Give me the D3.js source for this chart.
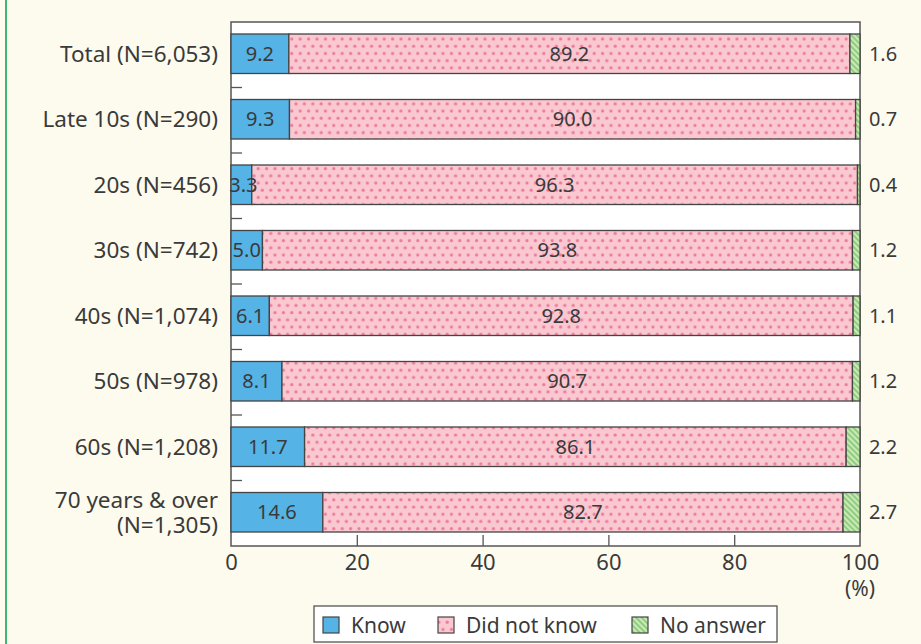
<!DOCTYPE html>
<html>
<head>
<meta charset="utf-8">
<script src="https://cdn.jsdelivr.net/npm/d3@7"></script>
<style>
  html, body { margin: 0; padding: 0; background: #fdfbee; }
  svg { display: block; }
  text { font-family: "Noto Sans", "Open Sans", sans-serif; fill: #3a3a3a; }
</style>
</head>
<body>
<script>
// Survey: awareness by age group (%)
const categories = [
  "Total (N=6,053)",
  "Late 10s (N=290)",
  "20s (N=456)",
  "30s (N=742)",
  "40s (N=1,074)",
  "50s (N=978)",
  "60s (N=1,208)",
  "70 years & over|(N=1,305)"
];
const know       = [9.2, 9.3, 3.3, 5.0, 6.1, 8.1, 11.7, 14.6];
const didNotKnow = [89.2, 90.0, 96.3, 93.8, 92.8, 90.7, 86.1, 82.7];
const noAnswer   = [1.6, 0.7, 0.4, 1.2, 1.1, 1.2, 2.2, 2.7];
const seriesNames = ["Know", "Did not know", "No answer"];
const xTicks = [0, 20, 40, 60, 80, 100];

const W = 921, H = 644;
const plot = { left: 231, right: 860, top: 22, bottom: 546 };

const svg = d3.select("body").append("svg").attr("width", W).attr("height", H);

// fill patterns
const defs = svg.append("defs");
const dots = defs.append("pattern").attr("id", "dots")
  .attr("patternUnits", "userSpaceOnUse").attr("width", 8.4).attr("height", 14.4);
dots.append("rect").attr("width", 8.4).attr("height", 14.4).attr("fill", "#f9c8d0");
[[2, 3], [6.2, 10.2]].forEach(([cx, cy]) =>
  dots.append("circle").attr("cx", cx).attr("cy", cy).attr("r", 1.6).attr("fill", "#ee7a9b"));

const stripes = defs.append("pattern").attr("id", "stripes")
  .attr("patternUnits", "userSpaceOnUse").attr("width", 4).attr("height", 4)
  .attr("patternTransform", "rotate(-45)");
stripes.append("rect").attr("width", 4).attr("height", 4).attr("fill", "#cbe9b8");
stripes.append("rect").attr("width", 2).attr("height", 4).attr("fill", "#8fcd7e");

const fills = ["#56b3e6", "url(#dots)", "url(#stripes)"];

// left green rule
svg.append("rect").attr("x", 5).attr("y", 0).attr("width", 2).attr("height", H).attr("fill", "#3db874");

const x = d3.scaleLinear().domain([0, 100]).range([plot.left, plot.right]);
const y = d3.scaleBand().domain(categories).range([plot.top, plot.bottom]).paddingInner(0).paddingOuter(0);
const barOff = 12, barH = 39.5;

// plot area
svg.append("rect").attr("x", plot.left).attr("y", plot.top)
  .attr("width", plot.right - plot.left).attr("height", plot.bottom - plot.top)
  .attr("fill", "#fff").attr("stroke", "#555").attr("stroke-width", 1.5);

// stacked data
const rows = categories.map((c, i) => ({ cat: c, vals: [know[i], didNotKnow[i], noAnswer[i]] }));
const stack = d3.stack().keys([0, 1, 2]).value((d, k) => d.vals[k]);
const layers = stack(rows);

layers.forEach((layer, k) => {
  svg.append("g").selectAll("rect").data(layer).join("rect")
    .attr("x", d => x(d[0]))
    .attr("y", d => y(d.data.cat) + barOff)
    .attr("width", d => x(d[1]) - x(d[0]))
    .attr("height", barH)
    .attr("fill", fills[k])
    .attr("stroke", "#444").attr("stroke-width", 1.3);
});

// value labels
layers.forEach((layer, k) => {
  svg.append("g").selectAll("text").data(layer).join("text")
    .attr("x", d => k === 2 ? plot.right + 23 : (x(d[0]) + x(d[1])) / 2 + (k === 0 && d.data.vals[0] < 4 ? 2 : 0))
    .attr("y", d => y(d.data.cat) + barOff + barH / 2)
    .attr("dy", "0.36em")
    .attr("text-anchor", "middle")
    .attr("font-size", 20)
    .text(d => d.data.vals[k].toFixed(1));
});

// left axis: inner ticks at band boundaries
const yAxisG = svg.append("g");
categories.slice(1).forEach(c => {
  yAxisG.append("line").attr("x1", plot.left).attr("x2", plot.left + 11)
    .attr("y1", y(c)).attr("y2", y(c)).attr("stroke", "#555").attr("stroke-width", 1.3);
});

// category labels
categories.forEach(c => {
  const lines = c.split("|");
  const cy = y(c) + barOff + barH / 2;
  const t = svg.append("text").attr("text-anchor", "end").attr("font-size", 22.5);
  lines.forEach((ln, j) => {
    t.append("tspan").attr("x", plot.left - 13)
      .attr("y", cy + (j - (lines.length - 1) / 2) * 25).attr("dy", "0.36em").text(ln);
  });
});

// bottom axis
const xAxis = d3.axisBottom(x).tickValues(xTicks).tickSize(-11).tickPadding(8).tickFormat(d3.format("d"));
const xg = svg.append("g").attr("transform", `translate(0,${plot.bottom})`).call(xAxis);
xg.select(".domain").remove();
xg.selectAll(".tick line").attr("stroke", "#555").attr("stroke-width", 1.3)
  .filter(d => d === 0 || d === 100).remove();
xg.selectAll(".tick text").attr("font-size", 22).attr("fill", "#3a3a3a")
  .attr("font-family", "'Noto Sans', sans-serif");
svg.append("text").attr("x", x(100)).attr("y", 588).attr("dy", "0.36em").attr("text-anchor", "middle")
  .attr("font-size", 21).text("(%)");

// legend
const lg = svg.append("g");
lg.append("rect").attr("x", 314).attr("y", 606).attr("width", 463).attr("height", 36)
  .attr("fill", "#fff").attr("stroke", "#555").attr("stroke-width", 1.3);
const legendX = [323, 438, 632];
seriesNames.forEach((s, k) => {
  lg.append("rect").attr("x", legendX[k]).attr("y", 617).attr("width", 16).attr("height", 16)
    .attr("fill", fills[k]).attr("stroke", "#444").attr("stroke-width", 1.2);
  lg.append("text").attr("x", legendX[k] + 28).attr("y", 625).attr("dy", "0.36em")
    .attr("font-size", 21).text(s);
});
</script>
</body>
</html>
